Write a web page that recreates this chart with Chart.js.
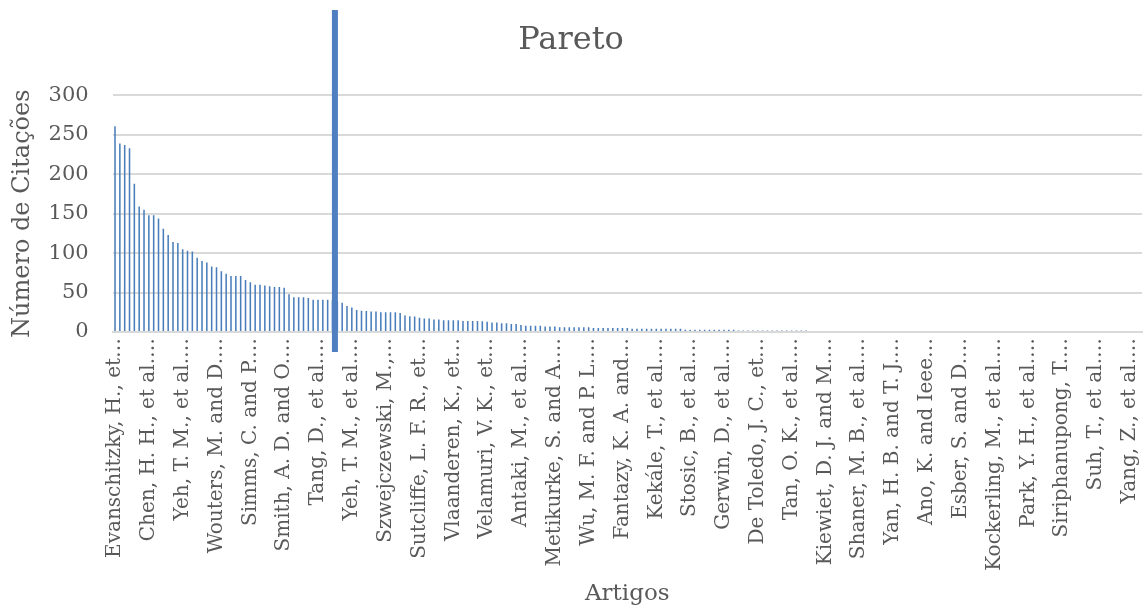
<!DOCTYPE html>
<html>
<head>
<meta charset="utf-8">
<script src="https://cdn.jsdelivr.net/npm/chart.js@4.4.1/dist/chart.umd.min.js"></script>
<style>
  html, body { margin: 0; padding: 0; background: #ffffff; }
  #wrap { width: 1144px; height: 608px; }
</style>
</head>
<body>
<div id="wrap"><canvas id="c" width="1144" height="608"></canvas></div>
<script>
// ---- Data ----
const chartTitle = "Pareto";
const xAxisTitle = "Artigos";
const yAxisTitle = "Número de Citações";

// Visible category labels (every 7th article, truncated as in the source)
const labelStep = 7;
const visibleLabels = [
  "Evanschitzky, H., et…", "Chen, H. H., et al.…", "Yeh, T. M., et al.…",
  "Wouters, M. and D.…", "Simms, C. and P.…", "Smith, A. D. and O.…",
  "Tang, D., et al.…", "Yeh, T. M., et al.…", "Szwejczewski, M.,…",
  "Sutcliffe, L. F. R., et…", "Vlaanderen, K., et…", "Velamuri, V. K., et…",
  "Antaki, M., et al.…", "Metikurke, S. and A.…", "Wu, M. F. and P. L.…",
  "Fantazy, K. A. and…", "Kekále, T., et al.…", "Stosic, B., et al.…",
  "Gerwin, D., et al.…", "De Toledo, J. C., et…", "Tan, O. K., et al.…",
  "Kiewiet, D. J. and M.…", "Shaner, M. B., et al.…", "Yan, H. B. and T. J.…",
  "Ano, K. and Ieee…", "Esber, S. and D.…", "Kockerling, M., et al.…",
  "Park, Y. H., et al.…", "Siriphanupong, T.…", "Suh, T., et al.…",
  "Yang, Z., et al.…"
];

// Citation counts, sorted descending (one per article)
const citationsTop = [
  261, 239, 237, 233, 188, 159, 155, 148, 148, 144,
  131, 123, 114, 113, 105, 103, 102, 94, 90, 88,
  83, 82, 77, 74, 71, 71, 71, 66, 63, 60,
  60, 59, 58, 57, 57, 56, 48, 44, 44, 44,
  43, 41, 41, 41, 41, 40, 39, 37, 33, 31
];
const citationsMid = [
  28, 27, 26.5, 26, 26, 25, 25, 25, 25, 24,
  21, 20, 19.5, 18, 17, 17, 16, 16, 15, 15,
  15, 15, 14, 14, 14, 14, 13.5, 13, 12, 12,
  11, 11, 10, 10, 9, 8, 8, 8, 8, 7,
  7, 7, 6, 6, 6, 6
];
const citationsLow = [
  6, 6, 6, 5, 5, 5, 5, 5, 5, 5, 5,
  4, 4, 4, 4, 4, 4, 4, 4, 4,
  4, 4, 3, 3, 3, 3, 3, 3, 3, 3,
  3, 3, 3, 2, 2, 2, 2, 2, 2, 2,
  2, 2, 2, 2, 2, 2, 2, 2
];
const citationsZero = [
  0,0,0,0,0,0,0,0,0,0, 0,0,0,0,0,0,0,0,0,0,
  0,0,0,0,0,0,0,0,0,0, 0,0,0,0,0,0,0,0,0,0,
  0,0,0,0,0,0,0,0,0,0, 0,0,0,0,0,0,0,0,0,0,
  0,0,0,0,0,0,0,0,0
];
const citations = citationsTop.concat(citationsMid, citationsLow, citationsZero);

// y-axis ticks
const yTicks = [0, 50, 100, 150, 200, 250, 300];

// Pareto cut-off marker position (category index, between articles 45 and 46)
const paretoCutoff = 45.5;

// Build category list: named every labelStep, blank otherwise
const categories = citations.map((_, i) =>
  (i % labelStep === 0 && visibleLabels[i / labelStep] !== undefined) ? visibleLabels[i / labelStep] : ""
);

const BLUE = "#4a7ebb";
const TEXT = "#595959";
const FONT = "'DejaVu Serif', 'Liberation Serif', serif";

const cutoffLine = {
  id: "cutoffLine",
  afterDatasetsDraw(chart) {
    const x = chart.scales.x.getPixelForValue(paretoCutoff);
    const ctx = chart.ctx;
    ctx.save();
    ctx.strokeStyle = "#4f7fc0";
    ctx.lineWidth = 6;
    ctx.beginPath();
    ctx.moveTo(x, 10);
    ctx.lineTo(x, chart.chartArea.bottom + 20);
    ctx.stroke();
    ctx.restore();
  }
};

new Chart(document.getElementById("c"), {
  type: "bar",
  data: {
    labels: categories,
    datasets: [{
      data: citations,
      backgroundColor: BLUE,
      borderWidth: 0,
      barPercentage: 0.32,
      categoryPercentage: 1.0
    }]
  },
  options: {
    responsive: false,
    animation: false,
    layout: { padding: { left: 0, right: 2, top: 20, bottom: 0 } },
    plugins: {
      legend: { display: false },
      tooltip: { enabled: false },
      title: {
        display: true,
        text: chartTitle,
        color: TEXT,
        font: { family: FONT, size: 32, weight: "normal" },
        padding: { top: 1, bottom: 36 }
      }
    },
    scales: {
      x: {
        offset: true,
        grid: { display: false, drawTicks: false },
        border: { display: true, color: "#d9d9d9", width: 2 },
        afterFit(scale) {
          scale.height = 276;
          scale.paddingLeft = 0;
          scale.paddingRight = 0;
        },
        ticks: {
          autoSkip: false,
          maxRotation: 90,
          minRotation: 90,
          padding: 6,
          color: TEXT,
          font: { family: FONT, size: 20 },
          callback: function (v, i) { return categories[i]; }
        },
        title: {
          display: true,
          text: xAxisTitle,
          color: TEXT,
          font: { family: FONT, size: 23 },
          padding: { top: 4, bottom: 0 }
        }
      },
      y: {
        min: 0,
        max: 300,
        afterBuildTicks(scale) { scale.ticks = yTicks.map(v => ({ value: v })); },
        afterFit(scale) {
          scale.width = 112.6;
          scale.paddingTop = 0;
          scale.paddingBottom = 0;
        },
        grid: { color: "#d9d9d9", lineWidth: 2, drawTicks: false },
        border: { display: false },
        ticks: {
          padding: 24,
          color: TEXT,
          font: { family: FONT, size: 21 }
        },
        title: {
          display: true,
          text: yAxisTitle,
          color: TEXT,
          font: { family: FONT, size: 24 },
          padding: { top: 8, bottom: 4 }
        }
      }
    }
  },
  plugins: [cutoffLine]
});
</script>
</body>
</html>
